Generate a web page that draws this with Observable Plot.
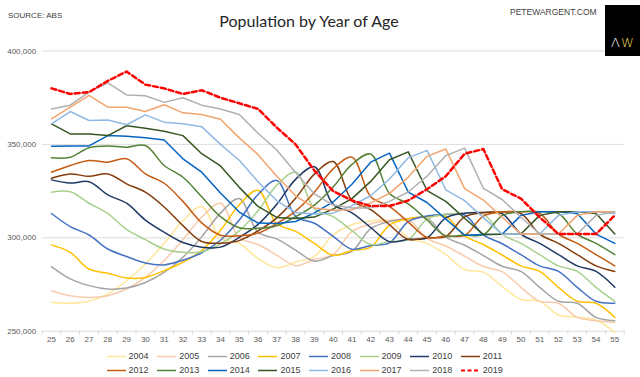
<!DOCTYPE html>
<html><head><meta charset="utf-8">
<script src="https://cdn.jsdelivr.net/npm/d3@7"></script>
<script src="https://cdn.jsdelivr.net/npm/@observablehq/plot@0.6"></script>
<style>
html,body{margin:0;padding:0;background:#fff;}
#wrap{position:relative;width:640px;height:377px;overflow:hidden;background:#fff;font-family:"Liberation Sans",Arial,sans-serif;}
#chart{position:absolute;left:0;top:0;}
#title{position:absolute;left:0;width:618px;top:11px;text-align:center;font-family:Lato,"Open Sans",sans-serif;font-size:16px;font-weight:400;color:#262626;}
#source{position:absolute;left:8px;top:11px;font-size:8px;color:#404040;}
#site{position:absolute;left:510px;top:7px;font-size:8.5px;color:#404040;}
#logo{position:absolute;left:605px;top:5px;width:40px;height:51px;background:#000;}
#logo span{position:absolute;top:30px;font-family:"DejaVu Sans",sans-serif;font-size:13px;font-weight:300;}
#legend{position:absolute;left:0;top:0;width:640px;height:377px;pointer-events:none;}
.item{position:absolute;height:12px;font-size:9px;color:#404040;line-height:12px;white-space:nowrap;}
.item svg{position:absolute;left:0;top:0;}
.item span{position:absolute;left:22px;top:0;}
</style></head><body>
<div id="wrap">
  <div id="chart"></div>
  <div id="title">Population by Year of Age</div>
  <div id="source">SOURCE: ABS</div>
  <div id="site">PETEWARGENT.COM</div>
  <div id="logo"><span style="left:6px;color:#fff">Λ</span><span style="left:16px;color:#E8D84A">W</span></div>
  <div id="legend"></div>
</div>
<script>
const ages = [25,26,27,28,29,30,31,32,33,34,35,36,37,38,39,40,41,42,43,44,45,46,47,48,49,50,51,52,53,54,55];
const years = [2004,2005,2006,2007,2008,2009,2010,2011,2012,2013,2014,2015,2016,2017,2018,2019];
const colors = ["#FFE699","#F8CBAD","#A5A5A5","#FFC000","#4472C4","#A9D18E","#203864","#843C0C","#C55A11","#548235","#0563C1","#375623","#8FB9E3","#F2A46E","#B0B0B0","#FF0000"];
const yTicks = [250, 300, 350, 400]; // thousands

// population (thousands) by age 25..55
const s2004 = [265.5,265,266,270,277,286,297,309,316.7,300,297,289,284,287,290,301.5,307,309,309.2,300,297,291,283,281.6,274,267,266,258.7,257.5,256,249.4];
const s2005 = [271.7,269,268.1,269,272.6,278.8,287.8,299,311,318.5,300,296.4,290.7,285.1,288.4,291,303.4,307.4,309.2,309.7,299.7,295.6,290.2,284.6,281.9,273.5,266,265,257.4,255.6,254.7];
const s2006 = [284.6,278,274.4,272.6,273.1,276.1,281.5,289.6,300.5,313.2,321,303,299.4,293.4,287.5,290.5,292.8,304.9,308.7,310.2,310.5,300.3,296,290.5,284.8,282,273.5,266,265,257.4,255.6];
const s2007 = [296.2,292.2,283.3,281,278.5,278.8,282.4,286.9,293.1,304,317.7,325.4,307.5,303.4,297,290.6,293.2,295,306.8,310.2,311.4,311.4,301,296.4,290.8,285,282,273.5,266,265,257.4];
const s2008 = [313,306,301.5,294,290,286.5,285.5,288,292,298.7,309.5,323.2,330.7,311.5,307.8,300.8,293.9,295.9,297.3,308.7,311.7,312.5,312.2,301.6,296.8,291,285,282,273.5,266,265];
const s2009 = [324.4,324.6,318.5,313,304.5,299,294,292.2,292.5,296.7,303.7,314.5,328.2,335.2,315.5,311.3,303.8,296.4,298,299,310,312.7,313.2,312.7,301.9,297,291,285,282,273.5,266];
const s2010 = [331,329.3,330,323,318.5,309.5,303,297.5,295,295,300.2,307.2,318,331.3,338,317.9,313.4,305.5,297.9,299.2,300,310.7,313.2,313.5,312.9,302,297,291,285,282,273.5];
const s2011 = [331.9,334.2,332.9,334.2,328.9,324.4,316.5,306.5,298,297.1,298.5,303.7,310.7,321.2,334.1,340.8,320,315.1,307,299.1,300.1,300.7,311.2,313.5,313.8,313,302,297,291,285,282];
const s2012 = [335.1,338.7,341.4,340.5,342.3,334.2,329.2,319.5,308,301.4,301.1,302.5,307.7,314.3,324.4,336.9,343.2,322,316.8,308.4,300.2,300.9,301.3,311.6,313.8,314,313,302,297,291,285];
const s2013 = [342.8,343.1,348.2,349.2,348.5,349.4,338.7,332.4,322,311.3,305.4,305.1,306.5,311.3,317.5,327.2,339.3,344.8,323.7,318.2,309.5,301,301.5,301.7,311.9,314,314,313,302,297,291];
const s2014 = [349,349.2,349.2,354.7,354.4,353.5,352.4,342.3,335.1,324,313.8,307.9,307.6,308.7,313.3,319.2,328.7,340.5,345.3,324.5,318.9,310,301.4,301.7,301.9,312,314,314,313,302,297];
const s2015 = [361,355.6,355.6,354.7,360,358.7,357,354.7,345,338.5,327,316.8,310.9,310.3,311.1,315.4,321,330.2,341.8,346,325.3,319.5,310.5,301.7,301.9,302,312,314,314,313,302];
const s2016 = [361,367.6,362.8,363.1,360.5,365.8,361.9,361,359.5,350,341.5,330,319.8,313.6,312.7,313.2,317.2,322.5,331.5,342.8,346.8,325.7,319.9,310.8,301.9,302,302,312,314,314,313];
const s2017 = [363.7,369.9,376.2,369.9,369.9,367.6,371.2,366.9,366,363.5,353.5,344.5,333,322.5,316,314.8,315,318.7,323.8,332.5,343.6,347.5,326.3,320.2,311,302,302,302,312,314,314];
const s2018 = [369,371,378,383,376.5,376,372.5,375,371,369,366,356,347,335,323.5,317.5,316,316,319.5,324.5,333,344,348,326.5,320.5,311,302,302,302,312,314];
const s2019 = [380,377,378,384,389,382,380,377,379,375,372,369,359,350,336,325,320,317,317,320,326,333,345,347.5,326,321,311,302,302,302,312];

const series = [s2004,s2005,s2006,s2007,s2008,s2009,s2010,s2011,s2012,s2013,s2014,s2015,s2016,s2017,s2018,s2019];
const rows = years.flatMap((yr, i) => series[i].map((v, j) => ({year: yr, age: ages[j], value: v})));
const bounds = ages.map(a => a - 0.5).concat([ages[ages.length - 1] + 0.5]);

const chart = Plot.plot({
  width: 640, height: 377,
  marginLeft: 41.6, marginRight: 16.3, marginTop: 50.5, marginBottom: 46.3,
  x: {domain: [24.5, 55.5]},
  y: {domain: [250, 400]},
  color: {domain: years, range: colors},
  style: {fontFamily: "Liberation Sans, Arial, sans-serif", fontSize: "8px", color: "#595959", background: "transparent"},
  marks: [
    Plot.ruleY(yTicks, {stroke: "#D9D9D9", strokeWidth: 0.9}),
    Plot.axisY({ticks: yTicks, tickSize: 0, tickPadding: 6, tickFormat: d => d3.format(",")(d * 1000), label: null}),
    Plot.axisX({ticks: bounds, tickSize: 4, tickFormat: () => "", stroke: "#D9D9D9", label: null}),
    Plot.axisX({ticks: ages, tickSize: 0, tickPadding: 5, tickFormat: d => String(d), label: null}),
    Plot.line(rows.filter(d => d.year <= 2013), {x: "age", y: "value", z: "year", stroke: "year", curve: "catmull-rom", strokeWidth: 1.5}),
    Plot.line(rows.filter(d => d.year > 2013 && d.year < 2019), {x: "age", y: "value", z: "year", stroke: "year", curve: "linear", strokeWidth: 1.5}),
    Plot.line(rows.filter(d => d.year === 2019), {x: "age", y: "value", z: "year", stroke: "year", curve: "linear", strokeWidth: 2.5, strokeDasharray: "5,3"})
  ]
});
document.getElementById("chart").appendChild(chart);

// legend
const leg = document.getElementById("legend");
years.forEach((yr, i) => {
  const row = Math.floor(i / 8), col = i % 8;
  const div = document.createElement("div");
  div.className = "item";
  div.style.left = (106.6 + col * 50.6) + "px";
  div.style.top = (350 + row * 13.5) + "px";
  const dash = yr === 2019 ? 'stroke-dasharray="4,2.5" stroke-width="2"' : 'stroke-width="1.5"';
  div.innerHTML = `<svg width="20" height="12"><line x1="0" x2="19" y1="6.5" y2="6.5" stroke="${colors[i]}" ${dash}/></svg><span>${yr}</span>`;
  leg.appendChild(div);
});
</script>
</body></html>
